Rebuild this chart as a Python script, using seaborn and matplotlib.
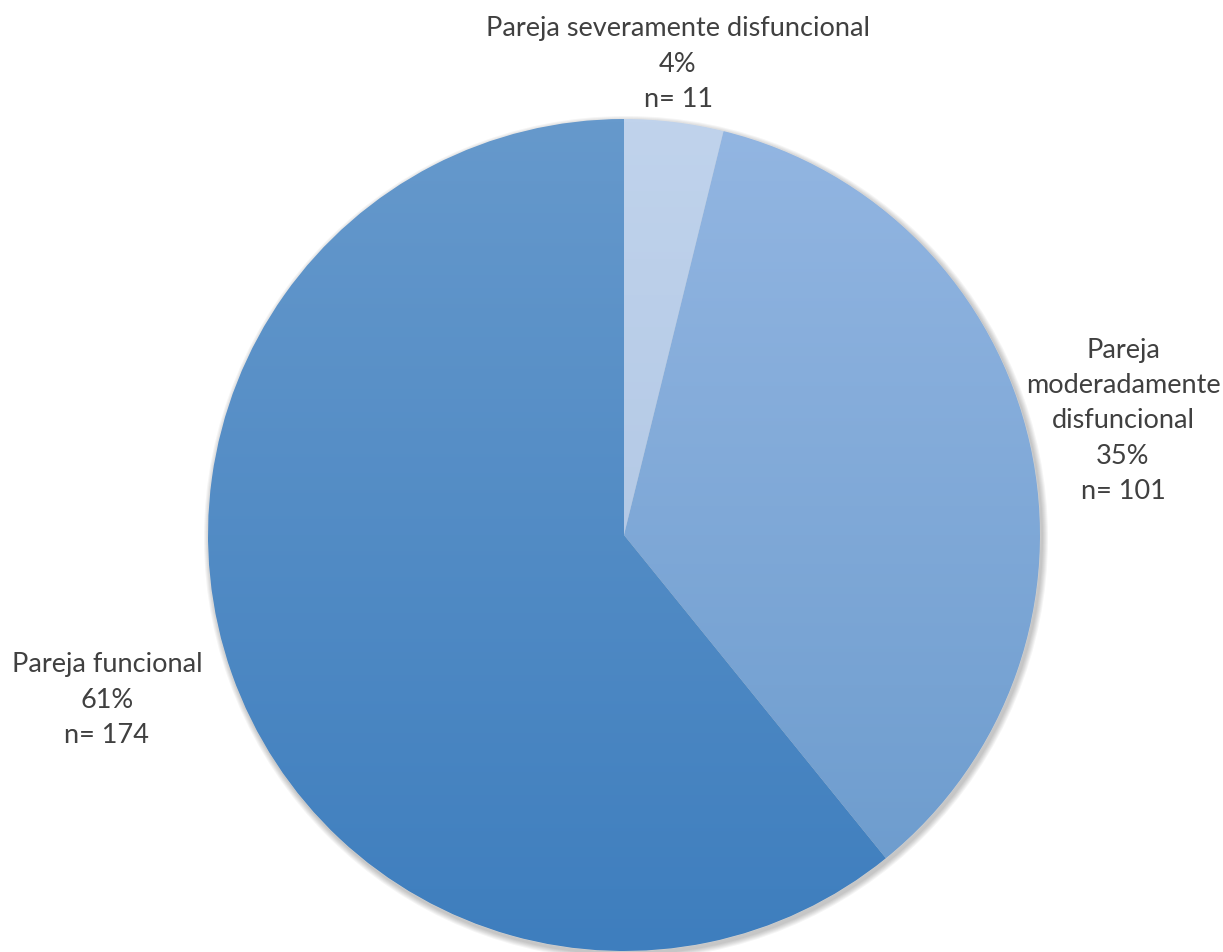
import numpy as np
import seaborn as sns
import matplotlib.pyplot as plt
from matplotlib.patches import Circle

# Data
categories = ["Pareja severamente disfuncional",
              "Pareja\nmoderadamente\ndisfuncional",
              "Pareja funcional"]
counts = [11, 101, 174]
percents = ["4%", "35%", "61%"]

# gradient colours per slice (top, bottom)
top_colors = ["#C0D3EC", "#93B6E2", "#6699CC"]
bottom_colors = ["#A8C0E0", "#6A9ACC", "#3E7EBE"]

sns.set_theme(style="white")
plt.rcParams['font.family'] = ['Lato', 'DejaVu Sans']

fig = plt.figure(figsize=(12.23, 9.52), dpi=100)
ax = fig.add_axes([0, 0, 1, 1])

cx, cy, r = 624, 417, 416

# soft shadow behind the pie
for k in range(6, 0, -1):
    ax.add_patch(Circle((cx + 2, cy - 3), r + k, color='black',
                        alpha=0.04, lw=0, zorder=0))

wedges, _ = ax.pie(counts, startangle=90, counterclock=False,
                   center=(cx, cy), radius=r, frame=True,
                   wedgeprops=dict(linewidth=0.6, edgecolor='#FFFFFF40'))

for w, c1, c2 in zip(wedges, top_colors, bottom_colors):
    w.set_facecolor('none')
    cmap = sns.blend_palette([c2, c1], as_cmap=True)
    grad = np.linspace(0, 1, 256).reshape(-1, 1)
    im = ax.imshow(grad, cmap=cmap, origin='lower', aspect='auto',
                   extent=(cx - r, cx + r, cy - r, cy + r), zorder=1)
    im.set_clip_path(w)

ax.set_xlim(0, 1223)
ax.set_ylim(0, 952)
ax.set_aspect('equal')
ax.axis('off')

txt = dict(ha='center', va='center', color='#404040', fontsize=19.5,
           linespacing=1.52)
ax.text(678, 952 - 64, f"{categories[0]}\n{percents[0]}\nn= {counts[0]}", **txt)
ax.text(1123, 952 - 421, f"{categories[1]}\n{percents[1]}\nn= {counts[1]}", **txt)
ax.text(107, 952 - 700, f"{categories[2]}\n{percents[2]}\nn= {counts[2]}", **txt)

fig.savefig("out.png", dpi=100)
